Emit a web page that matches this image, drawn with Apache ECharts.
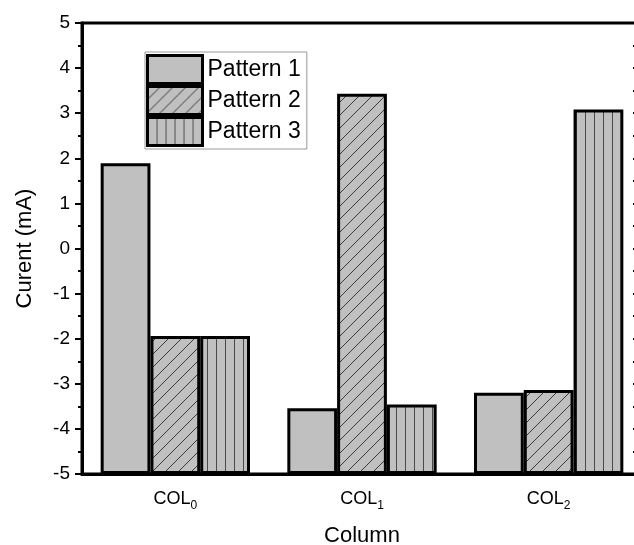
<!DOCTYPE html>
<html>
<head>
<meta charset="utf-8">
<script src="https://cdn.jsdelivr.net/npm/echarts@6/dist/echarts.min.js"></script>
<style>
  html, body { margin: 0; padding: 0; background: #fff; }
  #chart { width: 634px; height: 545px; }
</style>
</head>
<body>
<div id="chart"></div>
<script>
var categories = ['COL0', 'COL1', 'COL2'];
var seriesNames = ['Pattern 1', 'Pattern 2', 'Pattern 3'];
var pattern1 = [1.89, -3.54, -3.20];
var pattern2 = [-1.94, 3.43, -3.14];
var pattern3 = [-1.94, -3.46, 3.08];
var yTicks = [-5, 5]; // axis range, bars rise from the bottom of the axis

var base = yTicks[0];

// fill patterns
function makeFill(kind) {
    var c = document.createElement('canvas');
    var ctx;
    if (kind == 'hatch') {
        c.width = 13; c.height = 13;
        ctx = c.getContext('2d');
        ctx.fillStyle = '#c0c0c0';
        ctx.fillRect(0, 0, 13, 13);
        ctx.strokeStyle = '#3a3a3a';
        ctx.lineWidth = 1;
        ctx.beginPath();
        ctx.moveTo(-1, 14); ctx.lineTo(14, -1);
        ctx.moveTo(-14, 14); ctx.lineTo(1, -1);
        ctx.moveTo(12, 14); ctx.lineTo(27, -1);
        ctx.stroke();
    } else if (kind == 'vertical') {
        c.width = 9; c.height = 4;
        ctx = c.getContext('2d');
        ctx.fillStyle = '#c0c0c0';
        ctx.fillRect(0, 0, 9, 4);
        ctx.fillStyle = '#4a4a4a';
        ctx.fillRect(0, 0, 1, 4);
    } else {
        c.width = 4; c.height = 4;
        ctx = c.getContext('2d');
        ctx.fillStyle = '#c0c0c0';
        ctx.fillRect(0, 0, 4, 4);
    }
    return { image: c, repeat: 'repeat' };
}

var fills = [makeFill('solid'), makeFill('hatch'), makeFill('vertical')];
var values = [pattern1, pattern2, pattern3];

var chart = echarts.init(document.getElementById('chart'));
var font = 'Liberation Sans, Arial, sans-serif';

var series = [];
for (var i = 0; i < 3; i++) {
    series.push({
        name: seriesNames[i],
        type: 'bar',
        barGap: '0%',
        barCategoryGap: '20%',
        data: values[i].map(function (v) { return v - base; }),
        itemStyle: {
            color: fills[i],
            borderColor: '#000',
            borderWidth: 3
        }
    });
}

var option = {
    animation: false,
    textStyle: { fontFamily: font },
    grid: {
        left: 82,
        top: 23,
        width: 560,
        height: 451,
        outerBoundsMode: 'none',
        containLabel: false,
        show: true,
        borderColor: '#000',
        borderWidth: 3,
        backgroundColor: 'transparent'
    },
    legend: {
        orient: 'vertical',
        left: 145,
        top: 52,
        itemWidth: 55,
        itemHeight: 28,
        itemGap: 0,
        padding: [2, 6, 2, 1],
        backgroundColor: '#fff',
        borderColor: '#999',
        borderWidth: 1,
        icon: 'rect',
        itemStyle: { borderColor: '#000', borderWidth: 3 },
        textStyle: { fontSize: 23, lineHeight: 28, color: '#000', fontFamily: font },
        data: seriesNames
    },
    xAxis: [
        {
            type: 'category',
            data: categories,
            position: 'bottom',
            name: 'Column',
            nameLocation: 'middle',
            nameGap: 51,
            nameTextStyle: { fontSize: 22, color: '#000', fontFamily: font },
            axisLine: { lineStyle: { color: '#000', width: 3 } },
            axisTick: { alignWithLabel: true, length: 6, lineStyle: { color: '#000', width: 2 } },
            axisLabel: {
                margin: 12,
                formatter: function (v) {
                    return '{m|' + v.slice(0, 3) + '}{s|' + v.slice(3) + '}';
                },
                rich: {
                    m: { fontSize: 18, color: '#000', fontFamily: font, lineHeight: 26, verticalAlign: 'middle' },
                    s: { fontSize: 12, color: '#000', fontFamily: font, lineHeight: 26, verticalAlign: 'bottom', padding: [9, 0, 0, 0] }
                }
            },
            splitLine: { show: false }
        },
        {
            type: 'category',
            data: categories,
            position: 'bottom',
            axisLine: { show: false },
            axisTick: { length: 3, lineStyle: { color: '#000', width: 2 } },
            axisLabel: { show: false },
            splitLine: { show: false }
        }
    ],
    yAxis: [
        {
            type: 'value',
            min: 0,
            max: yTicks[1] - base,
            interval: 1,
            name: 'Curent (mA)',
            nameLocation: 'middle',
            nameGap: 46,
            nameTextStyle: { fontSize: 22, color: '#000', fontFamily: font },
            axisLine: { show: true, lineStyle: { color: '#000', width: 3 } },
            axisTick: { show: true, length: 7, lineStyle: { color: '#000', width: 2 } },
            minorTick: { show: true, splitNumber: 2, length: 4, lineStyle: { color: '#000', width: 2 } },
            axisLabel: {
                margin: 12,
                fontSize: 19,
                color: '#000',
                fontFamily: font,
                formatter: function (v) { return String(Math.round(v + base)); }
            },
            splitLine: { show: false }
        },
        {
            type: 'value',
            position: 'right',
            min: 0,
            max: yTicks[1] - base,
            interval: 0.5,
            axisLine: { show: true, lineStyle: { color: '#000', width: 3 } },
            axisTick: { show: true, inside: true, length: 9, lineStyle: { color: '#000', width: 2 } },
            axisLabel: { show: false },
            splitLine: { show: false }
        }
    ],
    series: series
};

chart.setOption(option);
</script>
</body>
</html>
